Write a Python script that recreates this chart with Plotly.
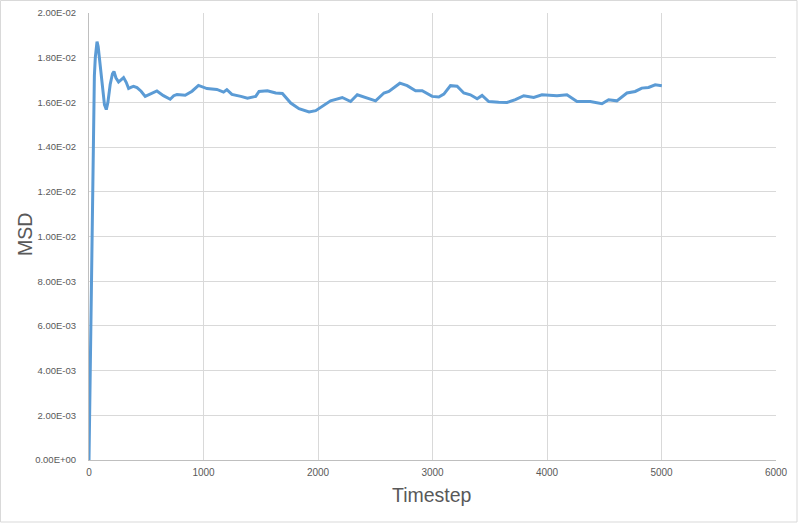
import plotly.graph_objects as go

timestep = [0, 5, 10, 14, 20, 23, 29, 35, 40, 44, 47, 55, 62, 70, 80, 95, 115, 135, 151, 165,
            185, 205, 218, 235, 258, 280, 302, 325, 346, 370, 389, 419, 455, 491, 540, 593,
            650, 709, 740, 768, 840, 900, 956, 1030, 1117, 1175, 1204, 1248, 1326, 1384,
            1456, 1485, 1558, 1631, 1689, 1762, 1834, 1922, 1980, 2038, 2110, 2212, 2285,
            2343, 2416, 2503, 2576, 2619, 2715, 2779, 2852, 2910, 2997, 3055, 3099, 3157,
            3215, 3273, 3331, 3390, 3433, 3491, 3578, 3651, 3724, 3797, 3884, 3956, 4087,
            4174, 4262, 4378, 4480, 4538, 4610, 4698, 4770, 4828, 4887, 4945, 5003]
msd = [0.0, 0.0020, 0.0032, 0.0043, 0.0065, 0.0076, 0.0106, 0.0135, 0.0142, 0.0158,
       0.0172, 0.0180, 0.0185, 0.01872, 0.0185, 0.0178, 0.0168, 0.0159, 0.01568, 0.0160,
       0.0168, 0.01728, 0.01738, 0.0171, 0.01691, 0.0170, 0.01711, 0.0169, 0.01662,
       0.01668, 0.01672, 0.01666, 0.0165, 0.01627, 0.0164, 0.01651, 0.0163, 0.01614,
       0.0163, 0.01635, 0.01632, 0.0165, 0.01676, 0.01662, 0.01658, 0.01646, 0.01657,
       0.01636, 0.01627, 0.01619, 0.01627, 0.01649, 0.01652, 0.01642, 0.01640, 0.01597,
       0.01572, 0.01557, 0.01563, 0.01582, 0.01607, 0.01622, 0.01604, 0.01634, 0.01622,
       0.01607, 0.01642, 0.01649, 0.01686, 0.01675, 0.01652, 0.01652, 0.01627, 0.01624,
       0.01637, 0.01675, 0.01672, 0.01642, 0.01634, 0.01616, 0.01631, 0.01604, 0.01601,
       0.01600, 0.01612, 0.01630, 0.01622, 0.01634, 0.01630, 0.01634, 0.01604, 0.01604,
       0.01594, 0.01612, 0.01607, 0.01642, 0.01649, 0.01664, 0.01667, 0.01679, 0.01675]

x_ticks = [0, 1000, 2000, 3000, 4000, 5000, 6000]
y_ticks = [0.000, 0.002, 0.004, 0.006, 0.008, 0.010, 0.012, 0.014, 0.016, 0.018, 0.020]
y_tick_labels = ["0.00E+00", "2.00E-03", "4.00E-03", "6.00E-03", "8.00E-03", "1.00E-02",
                 "1.20E-02", "1.40E-02", "1.60E-02", "1.80E-02", "2.00E-02"]
x_title = "Timestep"
y_title = "MSD"

W, H = 800, 524
L, R, T, B = 89, 24, 13, 64
pw, ph = W - L - R, H - T - B


def px_x(px):
    return (px - L) / pw


def px_y(py):
    return (H - B - py) / ph


fig = go.Figure()
fig.add_trace(go.Scatter(x=timestep, y=msd, mode="lines",
                         line=dict(color="#5B9BD5", width=3), showlegend=False))

font_fam = "Liberation Sans, Arial, sans-serif"
fig.update_layout(
    width=W, height=H,
    margin=dict(l=L, r=R, t=T, b=B),
    paper_bgcolor="white", plot_bgcolor="white",
    font=dict(family=font_fam, color="#595959", size=9),
    xaxis=dict(range=[0, 6000], tickvals=x_ticks, showgrid=True, gridcolor="#d9d9d9",
               gridwidth=1, zeroline=False, showline=True, linecolor="#bfbfbf",
               ticks="", automargin=False, ticklabelstandoff=3,
               tickfont=dict(size=10, color="#595959")),
    yaxis=dict(range=[0, 0.02], tickvals=y_ticks, ticktext=y_tick_labels, showgrid=True,
               gridcolor="#d9d9d9", gridwidth=1, zeroline=False, showline=True,
               linecolor="#bfbfbf", ticks="", ticklabelstandoff=10, automargin=False,
               tickfont=dict(size=9.5, color="#595959")),
    shapes=[dict(type="rect", xref="paper", yref="paper",
                 x0=px_x(0.5), x1=px_x(797), y0=px_y(522), y1=px_y(0.5),
                 line=dict(color="#d9d9d9", width=1), layer="below")],
    annotations=[
        dict(text=x_title, xref="paper", yref="paper", x=px_x(432), y=px_y(495),
             xanchor="center", yanchor="middle", showarrow=False,
             font=dict(size=19.5, color="#595959")),
        dict(text=y_title, xref="paper", yref="paper", x=px_x(25), y=px_y(235),
             xanchor="center", yanchor="middle", showarrow=False, textangle=-90,
             font=dict(size=19.5, color="#595959")),
    ],
)

fig.write_html("out.html", config={"displayModeBar": False},
               post_script="document.body.style.margin='0';document.body.style.overflow='hidden';")
